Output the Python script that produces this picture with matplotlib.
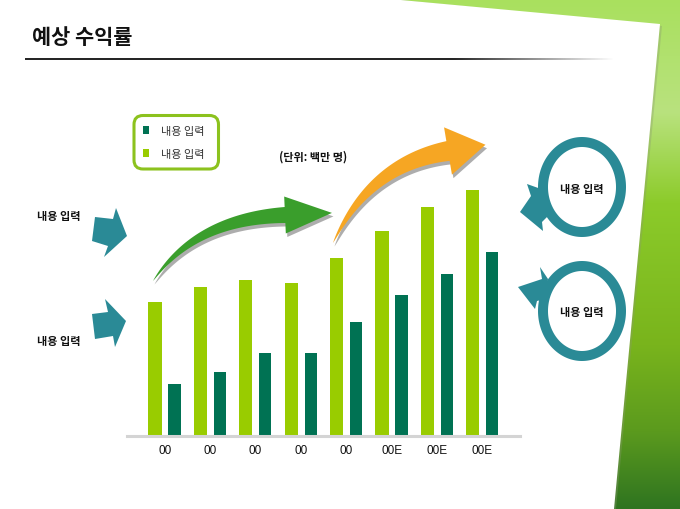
import numpy as np
import matplotlib.pyplot as plt
from matplotlib.patches import Polygon, FancyBboxPatch
from matplotlib.colors import LinearSegmentedColormap

W, H = 680, 510

# --- chart data (bar heights in px above the baseline) ---
categories = ['00', '00', '00', '00', '00', '00E', '00E', '00E']
series_light = [134, 149, 156, 153, 178, 205, 229, 246]
series_dark = [52, 64, 83, 83, 114, 141, 162, 184]
legend_labels = ['내용 입력', '내용 입력']   # dark, light
side_labels = ['내용 입력', '내용 입력']
ring_labels = ['내용 입력', '내용 입력']
title = '예상 수익률'
unit_note = '(단위: 백만 명)'

LIGHT = '#99cc00'
DARK = '#007253'
TEAL = '#2a8a96'
KR = ['Noto Sans CJK KR', 'DejaVu Sans']
plt.rcParams['font.family'] = KR

fig = plt.figure(figsize=(6.8, 5.1), dpi=100)

# === background / decoration layer in pixel coords (y down) ===
bg = fig.add_axes([0, 0, 1, 1])
bg.set_xlim(0, W)
bg.set_ylim(H, 0)
bg.axis('off')

green = LinearSegmentedColormap.from_list('g', [
    (0.0, '#a9e05e'), (0.22, '#b9e27e'), (0.4, '#8ccb2a'),
    (0.68, '#79b41c'), (0.85, '#5b9a1e'), (1.0, '#2f7420')])
grad = np.linspace(0, 1, 256)[:, None]
bg.imshow(grad, cmap=green, extent=[0, W, H, 0], aspect='auto', zorder=0)

# white sheet + faint shadow on its right edge
bg.add_patch(Polygon([(0, 0), (392, 0), (662, 27), (616, 510), (0, 510)],
                     closed=True, fc='#8a9a70', ec='none', alpha=0.35, zorder=1))
bg.add_patch(Polygon([(0, 0), (390, 0), (660, 25), (614, 510), (0, 510)],
                     closed=True, fc='white', ec='none', zorder=1))

# title and fading rule
bg.text(32, 37, title, fontsize=15, fontweight='black', color='#111',
        ha='left', va='center', zorder=5)
fade = np.zeros((1, 300, 4))
fade[..., :3] = 0.15
fade[0, :, 3] = np.clip((615 - np.linspace(25, 615, 300)) / 160, 0, 1)
bg.imshow(fade, extent=[25, 615, 61, 59], aspect='auto', zorder=5,
          interpolation='bilinear')


def curved_arrow(p0, p1, p2, w_end, head_w, head_len, n=50):
    t = np.linspace(0, 1, n)[:, None]
    p0, p1, p2 = map(np.array, (p0, p1, p2))
    pts = (1 - t) ** 2 * p0 + 2 * (1 - t) * t * p1 + t ** 2 * p2
    der = 2 * (1 - t) * (p1 - p0) + 2 * t * (p2 - p1)
    tan = der / np.linalg.norm(der, axis=1)[:, None]
    nor = np.column_stack([-tan[:, 1], tan[:, 0]])
    w = (t[:, 0] ** 0.8) * w_end / 2
    left = pts + nor * w[:, None]
    right = pts - nor * w[:, None]
    te, ne = tan[-1], nor[-1]
    tip = p2 + te * head_len
    return np.vstack([left, p2 + ne * head_w, tip, p2 - ne * head_w, right[::-1]])


for poly, col in [(curved_arrow((153, 282), (195, 220), (285, 216), 16, 18.5, 47), '#3a9e2c'),
                  (curved_arrow((333, 244), (370, 165), (448, 152), 20, 24, 38), '#f6a623')]:
    bg.add_patch(Polygon(poly + [1.5, 3.5], closed=True, fc='#4a4a4a', ec='none',
                         alpha=0.45, zorder=3))
    bg.add_patch(Polygon(poly, closed=True, fc=col, ec='none', zorder=4))

# left teal arrows with labels
left_arrows = [
    [(95, 218), (113, 220), (116, 209), (127, 237), (104, 258), (108, 247), (92, 242)],
    [(92, 315), (108, 313), (105, 300), (126, 322), (115, 348), (113, 337), (95, 340)],
]
for pts in left_arrows:
    bg.add_patch(Polygon(pts, closed=True, fc=TEAL, ec='none', zorder=4))
for (x, y), lab in zip([(59, 217), (59, 342)], side_labels):
    bg.text(x, y, lab, fontsize=8, fontweight='bold', color='#111',
            ha='center', va='center', zorder=5)


def ring(cx, cy, rx, ry, thick, n=200):
    t = np.linspace(0, 2 * np.pi, n)
    outer = np.column_stack([cx + rx * np.cos(t), cy - ry * np.sin(t)])
    inner = np.column_stack([cx + (rx - thick) * np.cos(t[::-1]),
                             cy - (ry - thick) * np.sin(t[::-1])])
    return np.vstack([outer, inner])


# right circular arrows
bg.add_patch(Polygon(ring(582, 188, 44, 50, 10), closed=True, fc=TEAL, ec='none', zorder=4))
bg.add_patch(Polygon([(541, 190), (527, 185), (531, 197), (520, 213), (543, 232),
                      (542, 223), (550, 215)], closed=True, fc=TEAL, ec='none', zorder=4))
bg.add_patch(Polygon(ring(582, 312, 44, 50, 10), closed=True, fc=TEAL, ec='none', zorder=4))
bg.add_patch(Polygon([(548, 280), (540, 268), (542, 280), (518, 288), (535, 310),
                      (537, 302), (545, 300)], closed=True, fc=TEAL, ec='none', zorder=4))
for (x, y), lab in zip([(582, 190), (582, 313)], ring_labels):
    bg.text(x, y, lab, fontsize=8, fontweight='bold', color='#111',
            ha='center', va='center', zorder=5)

# legend frame and unit note
bg.add_patch(FancyBboxPatch((134, 116.5), 84.5, 53.5,
                            boxstyle='round,pad=0,rounding_size=9',
                            fc='white', ec='#8cc21e', lw=2.2, zorder=4))
bg.text(313, 157, unit_note, fontsize=8, fontweight='bold', color='#111',
        ha='center', va='center', zorder=5)

# === bar chart ===
ax = fig.add_axes([126.7 / W, 1 - 436.7 / H, (520 - 126.7) / W, 260 / H])
ax.set_zorder(2)
x = np.arange(len(categories))
b_light = ax.bar(x - 0.215, series_light, width=0.29, color=LIGHT)
b_dark = ax.bar(x + 0.215, series_dark, width=0.27, color=DARK)
ax.set_xlim(-0.838, 7.825)
ax.set_ylim(0, 260)
ax.patch.set_visible(False)
for s in ['top', 'right', 'left']:
    ax.spines[s].set_visible(False)
ax.spines['bottom'].set_color('#d4d4d4')
ax.spines['bottom'].set_linewidth(2.2)
ax.set_yticks([])
ax.set_xticks(x)
ax.set_xticklabels(categories, fontfamily='Liberation Sans', fontsize=8.5, color='#111')
ax.tick_params(axis='x', length=0, pad=6)

leg = ax.legend([b_dark, b_light], legend_labels, loc='upper left',
                bbox_to_anchor=(143 / W, 1 - 127 / H), bbox_transform=fig.transFigure,
                frameon=False, fontsize=8, borderpad=0, borderaxespad=0,
                handlelength=0.5, handleheight=0.7, handletextpad=1.1,
                labelspacing=1.15, labelcolor='#333')

fig.savefig('out.png', dpi=100)
